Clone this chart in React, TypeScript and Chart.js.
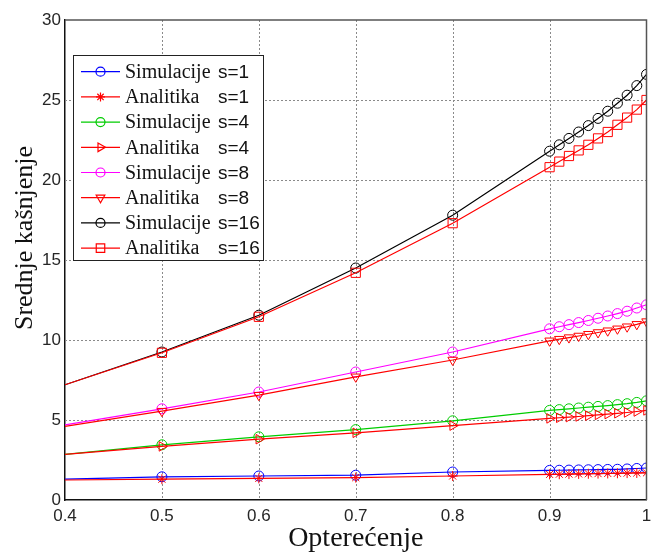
import React, { useEffect, useRef } from "react";
import { Chart, registerables } from "chart.js";
import { drawPoint } from "chart.js/helpers";

Chart.register(...registerables);

const loads = [0.4, 0.5, 0.6, 0.7, 0.8, 0.9, 0.91, 0.92, 0.93, 0.94, 0.95, 0.96, 0.97, 0.98, 0.99, 1.0];

const sim1 = [1.3, 1.45, 1.5, 1.55, 1.75, 1.85, 1.86, 1.87, 1.88, 1.89, 1.9, 1.91, 1.92, 1.94, 1.97, 2.0];
const ana1 = [1.25, 1.3, 1.35, 1.4, 1.5, 1.6, 1.61, 1.62, 1.63, 1.64, 1.65, 1.66, 1.67, 1.68, 1.69, 1.7];
const sim4 = [2.85, 3.45, 3.95, 4.4, 4.95, 5.6, 5.65, 5.7, 5.75, 5.8, 5.85, 5.9, 5.96, 6.02, 6.1, 6.2];
const ana4 = [2.85, 3.35, 3.8, 4.2, 4.65, 5.1, 5.14, 5.18, 5.22, 5.27, 5.32, 5.37, 5.42, 5.47, 5.53, 5.6];
const sim8 = [4.7, 5.7, 6.75, 8.0, 9.25, 10.7, 10.83, 10.96, 11.09, 11.22, 11.36, 11.5, 11.65, 11.8, 12.0, 12.2];
const ana8 = [4.6, 5.55, 6.55, 7.7, 8.75, 9.95, 10.05, 10.15, 10.25, 10.36, 10.47, 10.58, 10.7, 10.83, 10.98, 11.15];
const sim16 = [7.2, 9.25, 11.55, 14.5, 17.8, 21.8, 22.2, 22.6, 23.0, 23.4, 23.85, 24.3, 24.8, 25.3, 25.9, 26.6];
const ana16 = [7.2, 9.2, 11.45, 14.2, 17.3, 20.8, 21.15, 21.5, 21.85, 22.2, 22.6, 23.0, 23.45, 23.9, 24.4, 25.0];

const seriesNames = ["Simulacije", "Analitika", "Simulacije", "Analitika", "Simulacije", "Analitika", "Simulacije", "Analitika"];
const seriesS = ["s=1", "s=1", "s=4", "s=4", "s=8", "s=8", "s=16", "s=16"];
const seriesValues = [sim1, ana1, sim4, ana4, sim8, ana8, sim16, ana16];
const seriesColors = ["#0000ff", "#ff0000", "#00cc00", "#ff0000", "#ff00ff", "#ff0000", "#000000", "#ff0000"];
const seriesMarkers = ["circle", "star", "circle", "triangle", "circle", "triangle", "circle", "rect"];
const seriesRotation = [0, 0, 0, 90, 0, 180, 0, 0];
const seriesRadius = [5, 5, 5, 5.5, 5, 5.5, 5, 6.5];

const xTicks = [0.4, 0.5, 0.6, 0.7, 0.8, 0.9, 1.0];
const yTicks = [0, 5, 10, 15, 20, 25, 30];

const xTitle = "Opterećenje";
const yTitle = "Srednje kašnjenje";

const SERIF = "'Liberation Serif', 'Times New Roman', serif";
const SANS = "'Liberation Sans', Arial, sans-serif";

const gridPlugin = {
  id: "dotgrid",
  beforeDatasetsDraw(chart: any) {
    const { ctx, chartArea, scales } = chart;
    const { left, right, top, bottom } = chartArea;
    ctx.save();
    ctx.strokeStyle = "#8a8a8a";
    ctx.lineWidth = 1;
    ctx.setLineDash([2, 2]);
    for (const v of xTicks) {
      const px = Math.round(scales.x.getPixelForValue(v)) + 0.5;
      if (px <= left + 1 || px >= right - 1) continue;
      ctx.beginPath();
      ctx.moveTo(px, top);
      ctx.lineTo(px, bottom);
      ctx.stroke();
    }
    for (const v of yTicks) {
      const py = Math.round(scales.y.getPixelForValue(v)) + 0.5;
      if (py <= top + 1 || py >= bottom - 1) continue;
      ctx.beginPath();
      ctx.moveTo(left, py);
      ctx.lineTo(right, py);
      ctx.stroke();
    }
    ctx.restore();
  },
};

const decorPlugin = {
  id: "decor",
  afterDatasetsDraw(chart: any) {
    const { ctx, chartArea } = chart;
    const { left, right, top, bottom } = chartArea;
    ctx.save();
    // top & right frame
    ctx.strokeStyle = "#555";
    ctx.lineWidth = 1.5;
    ctx.beginPath();
    ctx.moveTo(left, top);
    ctx.lineTo(right, top);
    ctx.lineTo(right, bottom);
    ctx.stroke();

    // legend
    const bx = 73.5, by = 55.5, bw = 190, bh = 205;
    ctx.fillStyle = "#fff";
    ctx.fillRect(bx, by, bw, bh);
    ctx.strokeStyle = "#222";
    ctx.lineWidth = 1;
    ctx.strokeRect(bx, by, bw, bh);
    for (let i = 0; i < seriesNames.length; i++) {
      const y = 71.7 + i * 25.2;
      ctx.strokeStyle = seriesColors[i];
      ctx.lineWidth = 1.2;
      ctx.beginPath();
      ctx.moveTo(81, y);
      ctx.lineTo(120, y);
      ctx.stroke();
      ctx.fillStyle = "rgba(0,0,0,0)";
      drawPoint(ctx, { pointStyle: seriesMarkers[i], rotation: seriesRotation[i], radius: seriesRadius[i] - 0.5, borderWidth: 1 } as any, 100.5, y);
      ctx.fillStyle = "#111";
      ctx.textBaseline = "middle";
      ctx.textAlign = "left";
      ctx.font = "20px " + SERIF;
      ctx.fillText(seriesNames[i], 125, y + 1);
      ctx.font = "19px " + SANS;
      ctx.fillText(seriesS[i], 218, y + 1);
    }

    // axis titles
    ctx.fillStyle = "#111";
    ctx.textBaseline = "alphabetic";
    ctx.textAlign = "center";
    ctx.font = "28px " + SERIF;
    ctx.fillText(xTitle, (left + right) / 2, 546);
    ctx.translate(32, 238);
    ctx.rotate(-Math.PI / 2);
    ctx.font = "26px " + SERIF;
    ctx.fillText(yTitle, 0, 0);
    ctx.restore();
  },
};

export default function App() {
  const ref = useRef<HTMLCanvasElement>(null);
  useEffect(() => {
    const canvas = ref.current!;
    const chart = new Chart(canvas, {
      type: "line",
      data: {
        datasets: seriesValues.map((vals, i) => ({
          label: seriesNames[i] + " " + seriesS[i],
          data: vals.map((v, j) => ({ x: loads[j], y: v })),
          borderColor: seriesColors[i],
          backgroundColor: "rgba(0,0,0,0)",
          borderWidth: 1.2,
          pointStyle: seriesMarkers[i] as any,
          pointRotation: seriesRotation[i],
          pointRadius: (c: any) => (c.dataIndex === 0 ? 0 : seriesRadius[i]),
          pointBorderColor: seriesColors[i],
          pointBackgroundColor: "rgba(0,0,0,0)",
          pointBorderWidth: 1,
          tension: 0,
          clip: 0,
          order: 8 - i,
        })),
      },
      options: {
        animation: false,
        responsive: false,
        devicePixelRatio: 1,
        layout: { padding: { left: 0, top: 20, right: 3, bottom: 0 } },
        plugins: { legend: { display: false }, tooltip: { enabled: false } },
        scales: {
          x: {
            type: "linear",
            min: 0.4,
            max: 1.0,
            afterBuildTicks: (s: any) => {
              s.ticks = xTicks.map((v) => ({ value: v }));
            },
            afterFit: (s: any) => {
              s.height = 54;
              s.paddingLeft = 0;
              s.paddingRight = 0;
            },
            ticks: {
              callback: (v: any) => String(Math.round(Number(v) * 10) / 10),
              font: { family: SANS, size: 17 },
              color: "#262626",
              padding: 6,
              maxRotation: 0,
              autoSkip: false,
            },
            grid: { display: false, drawTicks: false },
            border: { color: "#111", width: 1.5 },
          },
          y: {
            type: "linear",
            min: 0,
            max: 30,
            afterBuildTicks: (s: any) => {
              s.ticks = yTicks.map((v) => ({ value: v }));
            },
            afterFit: (s: any) => {
              s.width = 65;
            },
            ticks: {
              font: { family: SANS, size: 17 },
              color: "#262626",
              padding: 4,
              autoSkip: false,
            },
            grid: { display: false, drawTicks: false },
            border: { color: "#111", width: 1.5 },
          },
        },
      },
      plugins: [gridPlugin, decorPlugin],
    });
    return () => chart.destroy();
  }, []);
  return (
    <div style={{ position: "fixed", left: 0, top: 0, width: 654, height: 554, overflow: "hidden", background: "#fff" }}>
      <canvas ref={ref} width={654} height={554} style={{ display: "block" }} />
    </div>
  );
}
